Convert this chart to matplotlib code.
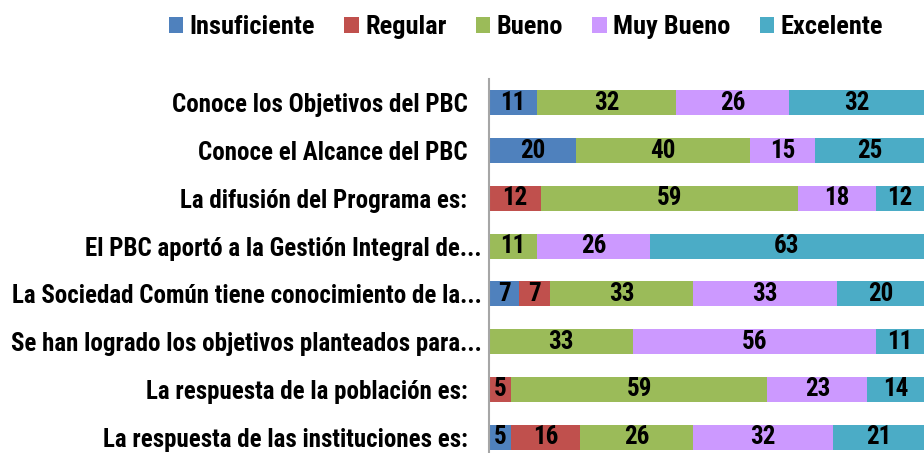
import matplotlib
matplotlib.use("Agg")
import matplotlib.pyplot as plt
from matplotlib.transforms import ScaledTranslation
import numpy as np

plt.rcParams['font.family'] = ['Roboto Condensed', 'Liberation Sans', 'DejaVu Sans']

categories = [
    "Conoce los Objetivos del PBC",
    "Conoce el Alcance del PBC",
    "La difusión del Programa es:",
    "El PBC aportó a la Gestión Integral de...",
    "La Sociedad Común tiene conocimiento de la...",
    "Se han logrado los objetivos planteados para...",
    "La respuesta de la población es:",
    "La respuesta de las instituciones es:",
]
series_names = ["Insuficiente", "Regular", "Bueno", "Muy Bueno", "Excelente"]
insuficiente = [11, 20, 0, 0, 7, 0, 0, 5]
regular      = [0, 0, 12, 0, 7, 0, 5, 16]
bueno        = [32, 40, 59, 11, 33, 33, 59, 26]
muy_bueno    = [26, 15, 18, 26, 33, 56, 23, 32]
excelente    = [32, 25, 12, 63, 20, 11, 14, 21]
colors = ["#4F81BD", "#C0504D", "#9BBB59", "#CC99FF", "#4BACC6"]

W, H = 924, 453
fig = plt.figure(figsize=(W/100, H/100), dpi=100)
ax = fig.add_axes([489/W, (H-461)/H, (924-489)/W, (461-79)/H])

data = [insuficiente, regular, bueno, muy_bueno, excelente]
y = np.arange(len(categories))
left = np.zeros(len(categories))
for name, vals, c in zip(series_names, data, colors):
    vals = np.array(vals, dtype=float)
    ax.barh(y, vals, left=left, height=0.52, color=c, label=name, edgecolor='none')
    for yi, (l, v) in enumerate(zip(left, vals)):
        if v > 0:
            cx = l + v/2
            if l + v > 100:
                cx = l + (100 - l)/2
            ax.text(cx, yi, f"{int(v)}", ha='center', va='center',
                    fontsize=18, fontweight='bold', color='black')
    left += vals

ax.set_xlim(0, 100)
ax.set_ylim(len(categories) - 0.5, -0.5)
ax.set_yticks(y)
ax.set_yticklabels(categories, fontsize=18, fontweight='bold')
ax.tick_params(axis='y', length=0, pad=15.5)
for lbl in ax.get_yticklabels():
    if lbl.get_text().endswith('...'):
        lbl.set_transform(lbl.get_transform() + ScaledTranslation(14/100, 0, fig.dpi_scale_trans))
ax.set_xticks([])
for s in ['top', 'right', 'bottom']:
    ax.spines[s].set_visible(False)
ax.spines['left'].set_color('#A6A6A6')
ax.spines['left'].set_linewidth(1.5)

leg = fig.legend(loc='center', bbox_to_anchor=(526/W, 1 - 27/H), ncol=5,
                 frameon=False, prop={'weight': 'bold', 'size': 19},
                 handlelength=0.55, handleheight=0.55, handletextpad=0.25,
                 columnspacing=1.1)

fig.savefig("out.png", dpi=100)
